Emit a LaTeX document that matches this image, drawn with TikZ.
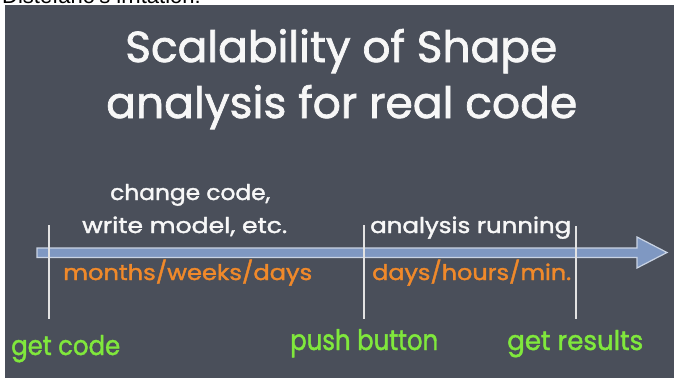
\documentclass[tikz,border=0pt]{standalone}
\usepackage{fontspec}
\setmainfont{Poppins}[FakeBold=1.6]
\newfontfamily\arialfont{Liberation Sans}
\usepackage{graphicx}
\newcommand\fitt[3]{\resizebox{#1pt}{#2pt}{\smash{#3}\vphantom{bdl}}}
\definecolor{slate}{HTML}{4A4F5A}
\definecolor{arrowfill}{HTML}{7F98C2}
\definecolor{arrowedge}{HTML}{C9D3E3}
\definecolor{orangec}{HTML}{F0892A}
\definecolor{greenc}{HTML}{80E83C}
\definecolor{chalk}{HTML}{F7F7F7}
\definecolor{tickgray}{HTML}{E2E2E2}
\begin{document}
\begin{tikzpicture}[x=1pt,y=-1pt,
  lbl/.style={inner sep=0pt, anchor=base west},
  tickline/.style={draw=tickgray, line width=1.1pt}]
\useasboundingbox (0,0) rectangle (674,380);
\fill[white] (0,0) rectangle (674,380);
\node[lbl, font=\arialfont\fontsize{22}{22}\selectfont, text=black] (hdr) at (2,3.5) {Distefano's irritation:};
\fill[slate] (5,5) rectangle (674,378);
% title
\node[lbl, text=chalk] (t1) at (125,62) {\fitt{432}{32}{Scalability of Shape}};
\node[lbl, text=chalk] (t2) at (106,118) {\fitt{471}{32}{analysis for real code}};
% timeline arrow
\draw[draw=arrowedge, fill=arrowfill, line width=1.2pt, line join=miter]
  (37,248) -- (637,248) -- (637,237) -- (667,252.5) -- (637,268) -- (637,257.5) -- (37,257.5) -- cycle;
% ticks
\coordinate (v1top) at (49,225);  \coordinate (v1bot) at (49,319);
\coordinate (v2top) at (364,225); \coordinate (v2bot) at (364,319);
\coordinate (v3top) at (576,226); \coordinate (v3bot) at (576,319);
\draw[tickline] (v1top) -- (v1bot);
\draw[tickline] (v2top) -- (v2bot);
\draw[tickline] (v3top) -- (v3bot);
% labels
\node[lbl, text=chalk] (l1) at (110,200) {\fitt{160}{16}{change code,}};
\node[lbl, text=chalk] (l2) at (82,233) {\fitt{205}{16}{write model, etc.}};
\node[lbl, text=orangec] (l3) at (63,280) {\fitt{249}{16}{months/weeks/days}};
\node[lbl, text=chalk] (l4) at (370,233) {\fitt{201}{16}{analysis running}};
\node[lbl, text=orangec] (l5) at (372,280) {\fitt{199}{16}{days/hours/min.}};
\node[lbl, text=greenc] (g1) at (11,355) {\fitt{109}{20}{get code}};
\node[lbl, text=greenc] (g2) at (290,350) {\fitt{148}{21}{push button}};
\node[lbl, text=greenc] (g3) at (507,350) {\fitt{136}{20}{get results}};
\end{tikzpicture}
\end{document}
